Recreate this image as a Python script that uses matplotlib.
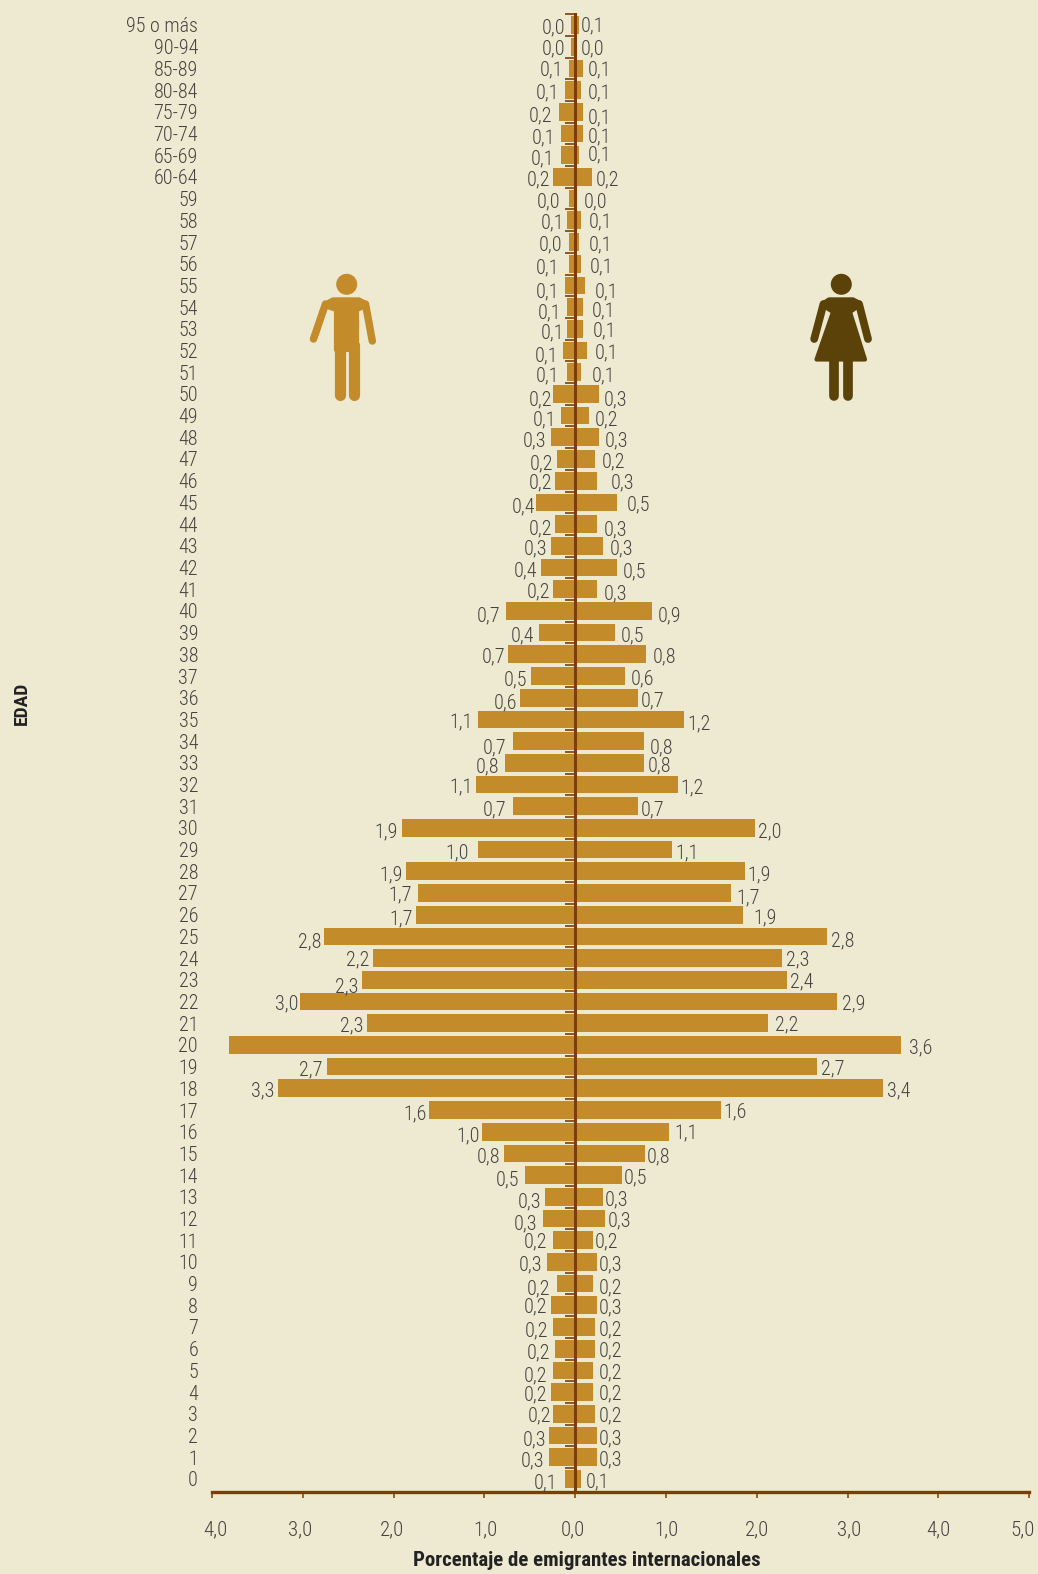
import matplotlib
matplotlib.use("Agg")
import matplotlib.pyplot as plt
from matplotlib.patches import Circle, Polygon
import numpy as np

ages = [str(i) for i in range(60)] + ["60-64", "65-69", "70-74", "75-79", "80-84", "85-89", "90-94", "95 o más"]

# bar lengths, index = row from age 0 upward
male = [0.114, 0.29, 0.29, 0.246, 0.268, 0.246, 0.224, 0.246, 0.268, 0.202, 0.312, 0.246, 0.356, 0.334, 0.558,
        0.789, 1.03, 1.608, 3.277, 2.74, 3.81, 2.296, 3.03, 2.346, 2.23, 2.766, 1.759, 1.737, 1.869, 1.068,
        1.913, 0.69, 1.09, 0.778, 0.69, 1.068, 0.606, 0.492, 0.738, 0.404, 0.76, 0.246, 0.382, 0.27, 0.224,
        0.43, 0.224, 0.20, 0.27, 0.158, 0.246, 0.092, 0.136, 0.092, 0.092, 0.11, 0.07, 0.07, 0.092, 0.07,
        0.246, 0.158, 0.158, 0.18, 0.11, 0.07, 0.044, 0.044]
female = [0.062, 0.242, 0.242, 0.22, 0.198, 0.198, 0.22, 0.22, 0.242, 0.198, 0.242, 0.198, 0.33, 0.308, 0.51,
          0.77, 1.036, 1.60, 3.388, 2.66, 3.59, 2.124, 2.88, 2.33, 2.28, 2.77, 1.843, 1.71, 1.865, 1.065,
          1.975, 0.686, 1.13, 0.752, 0.752, 1.197, 0.686, 0.55, 0.775, 0.44, 0.84, 0.239, 0.463, 0.305, 0.239,
          0.463, 0.239, 0.217, 0.26, 0.15, 0.26, 0.066, 0.132, 0.088, 0.088, 0.11, 0.066, 0.044, 0.066, 0.022,
          0.18, 0.044, 0.088, 0.088, 0.066, 0.088, 0.02, 0.044]

male_labels = ["0,1", "0,3", "0,3", "0,2", "0,2", "0,2", "0,2", "0,2", "0,2", "0,2", "0,3", "0,2", "0,3", "0,3", "0,5",
               "0,8", "1,0", "1,6", "3,3", "2,7", "", "2,3", "3,0", "2,3", "2,2", "2,8", "1,7", "1,7", "1,9", "1,0",
               "1,9", "0,7", "1,1", "0,8", "0,7", "1,1", "0,6", "0,5", "0,7", "0,4", "0,7", "0,2", "0,4", "0,3", "0,2",
               "0,4", "0,2", "0,2", "0,3", "0,1", "0,2", "0,1", "0,1", "0,1", "0,1", "0,1", "0,1", "0,0", "0,1", "0,0",
               "0,2", "0,1", "0,1", "0,2", "0,1", "0,1", "0,0", "0,0"]
female_labels = ["0,1", "0,3", "0,3", "0,2", "0,2", "0,2", "0,2", "0,2", "0,3", "0,2", "0,3", "0,2", "0,3", "0,3", "0,5",
                 "0,8", "1,1", "1,6", "3,4", "2,7", "3,6", "2,2", "2,9", "2,4", "2,3", "2,8", "1,9", "1,7", "1,9", "1,1",
                 "2,0", "0,7", "1,2", "0,8", "0,8", "1,2", "0,7", "0,6", "0,8", "0,5", "0,9", "0,3", "0,5", "0,3", "0,3",
                 "0,5", "0,3", "0,2", "0,3", "0,2", "0,3", "0,1", "0,1", "0,1", "0,1", "0,1", "0,1", "0,1", "0,1", "0,0",
                 "0,2", "0,1", "0,1", "0,1", "0,1", "0,1", "0,0", "0,1"]
xticks = [-4, -3, -2, -1, 0, 1, 2, 3, 4, 5]
xticklabels = ["4,0", "3,0", "2,0", "1,0", "0,0", "1,0", "2,0", "3,0", "4,0", "5,0"]

# the labels were placed by hand in the original: gap from bar end to label centre, px, age 0 upward
male_gap = [19, 16, 14, 13, 15, 17, 16, 16, 15, 18, 16, 17, 17, 15, 17,
            15, 14, 14, 15, 16, 0, 15, 13, 16, 15, 14, 14, 17, 15, 21,
            16, 18, 15, 17, 18, 17, 15, 15, 15, 16, 18, 14, 15, 15, 14,
            13, 14, 16, 16, 16, 12, 19, 16, 14, 17, 18, 21, 18, 14, 20,
            14, 18, 17, 18, 18, 17, 18, 18]
female_gap = [17, 13, 13, 15, 17, 17, 15, 15, 13, 17, 13, 13, 14, 13, 14,
              13, 17, 14, 16, 16, 19, 19, 17, 15, 15, 16, 22, 18, 14, 15,
              15, 15, 14, 16, 18, 15, 15, 17, 19, 17, 18, 18, 17, 19, 18,
              21, 25, 18, 18, 18, 17, 22, 19, 21, 20, 21, 20, 21, 19, 18,
              16, 20, 16, 16, 18, 16, 15, 13]
# vertical shift of each label, px, top row downward
male_drop = [1, 0, -1, 1, 2, 2, 2, 1, 1, 1, 1, 2, 4, 4, 2, 3, 2, 4, 2, 2, 3, 0, 2, 3, 1, 1, 1, 3, 1, 1, 2, 3, 1, 5,
             2, 1, 2, 2, 1, 2, 0, 2, 3, 0, 5, 0, 1, 0, 1, 1, 2, 2, 1, 3, 3, 3, 0, 1, 3, 0, 2, 2, 3, 1, 0, 2, 2, 2]
female_drop = [-1, 0, -1, 1, 4, 1, -2, 1, 1, 0, 1, 1, 4, 2, 0, 0, 2, 4, 2, 2, 1, 0, 0, 4, 1, 2, 3, 3, 1, 1, 1, 1, 2, 5,
               1, 1, 2, 2, 2, 2, 3, 1, 2, 0, 0, 0, 0, 1, 0, 1, 0, 0, 1, 1, 1, 0, 0, 1, 2, 1, 1, 0, 0, 0, 0, 1, 1, 1]
tick_label_nudge = [3, -3, -2, 1, -2, 0, 0, 1, 0, -7]

bg = "#eeead1"
bar_col = "#c48b2b"
axis_col = "#7f3c05"
woman_col = "#5a4208"
text_col = "#444441"
light = dict(family="Roboto Condensed", fontweight=300, color=text_col)
bold = dict(family="Roboto Condensed", fontweight=700, color="#222222")

W, H = 1038, 1574
zero_px, unit_px = 575.3, 90.8
axis_y, top_y = 1491.7, 12.7
row_px, row0_y = 21.7, 1478.9

fig = plt.figure(figsize=(W / 100, H / 100), dpi=100, facecolor=bg)
left = zero_px - 4 * unit_px
ax = fig.add_axes([left / W, 1 - axis_y / H, 9 * unit_px / W, (axis_y - top_y) / H], facecolor="none")
ax.set_xlim(-4, 5)
ax.set_ylim(-(axis_y - row0_y) / row_px, (row0_y - top_y) / row_px)

y = np.arange(len(ages))
ax.barh(y, -np.array(male), height=0.82, color=bar_col, linewidth=0)
ax.barh(y, female, height=0.82, color=bar_col, linewidth=0)

for s in ["top", "right", "left"]:
    ax.spines[s].set_visible(False)
ax.spines["bottom"].set_color(axis_col)
ax.spines["bottom"].set_linewidth(2.4)
ax.set_xticks(xticks)
ax.set_xticklabels([])
ax.tick_params(axis="x", length=4.5, width=1.1, color=axis_col)
ax.set_yticks([])

# centre line with small ticks between rows
ax.axvline(0, color=axis_col, lw=2.2, zorder=4)
ax.hlines(y + 0.5, -0.117, 0, color=axis_col, lw=1.2, zorder=4, clip_on=False)

for t, lab, dx in zip(xticks, xticklabels, tick_label_nudge):
    ax.annotate(lab, (t, ax.get_ylim()[0]), xytext=(dx, -36), textcoords="offset pixels",
                ha="center", va="center_baseline", fontsize=15, **light)

male_drop = male_drop[::-1]
female_drop = female_drop[::-1]
for i in y:
    ax.annotate(ages[i], (0, i), xycoords=("figure fraction", "data"), xytext=(198, 0),
                textcoords="offset pixels", ha="right", va="center_baseline", fontsize=14.5, **light)
    if male_labels[i]:
        ax.annotate(male_labels[i], (-male[i], i), xytext=(-male_gap[i], -male_drop[i]),
                    textcoords="offset pixels", ha="center", va="center_baseline", fontsize=14.5, **light)
    ax.annotate(female_labels[i], (female[i], i), xytext=(female_gap[i], -female_drop[i]),
                textcoords="offset pixels", ha="center", va="center_baseline", fontsize=14.5, **light)

fig.text(22 / W, 1 - 703 / H, "EDAD", rotation=90, ha="center", va="center", fontsize=14, **bold)
fig.text(586.5 / W, 1 - 1561 / H, "Porcentaje de emigrantes internacionales", ha="center", va="center",
         fontsize=15, **bold)

# pictograms in pixel coordinates
ov = fig.add_axes([0, 0, 1, 1], facecolor="none")
ov.set_xlim(0, W)
ov.set_ylim(H, 0)
ov.axis("off")


def limb(x0, y0, x1, y1, w, col):
    ov.plot([x0, x1], [y0, y1], color=col, lw=w * 0.72, solid_capstyle="round")


def body(pts, col):
    ov.add_patch(Polygon(pts, facecolor=col, edgecolor=col, lw=3, joinstyle="round"))


# man
c = bar_col
ov.add_patch(Circle((346.7, 284.3), 10.5, color=c, lw=0))
body([(333, 299.4), (359, 299.4), (364, 302), (366, 306), (357, 310), (357, 350), (336, 350),
      (336, 310), (325, 306), (328, 302)], c)
limb(325.5, 304, 313.5, 339, 7.5, c)
limb(365.5, 304, 372.3, 341, 7.5, c)
limb(339.5, 345, 339.5, 395.2, 11.2, c)
limb(353.5, 345, 353.5, 395.2, 11.2, c)

# woman
c = woman_col
ov.add_patch(Circle((841.3, 284.3), 10.5, color=c, lw=0))
body([(829, 299.4), (853, 299.4), (858, 302), (860, 305), (850, 312), (865, 359.5), (816.5, 359.5),
      (833, 312), (822, 305), (825, 302)], c)
limb(823.5, 304, 814.2, 339, 7.8, c)
limb(859, 304, 868, 339, 7.8, c)
limb(834.2, 358, 834.2, 395.8, 9.7, c)
limb(847.9, 358, 847.9, 395.8, 9.7, c)

fig.savefig("out.png", dpi=100, facecolor=bg)
